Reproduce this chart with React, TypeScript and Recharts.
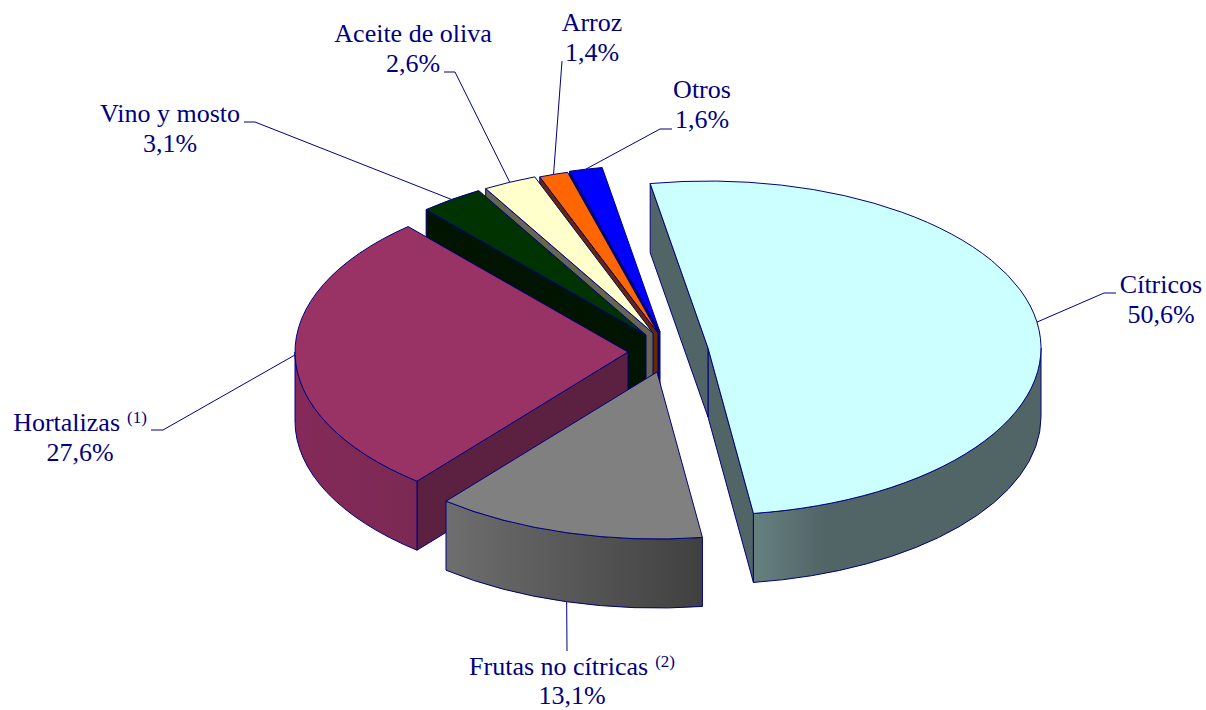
import React from 'react';
import { PieChart, Pie } from 'recharts';

// draw order runs back to front, counter-clockwise from the top
const categories = ['Otros', 'Arroz', 'Aceite de oliva', 'Vino y mosto', 'Hortalizas', 'Frutas no cítricas', 'Cítricos'];
const shares = [1.6, 1.4, 2.6, 3.1, 27.6, 13.1, 50.6];
const footnotes: Record<string, string> = { Hortalizas: '(1)', 'Frutas no cítricas': '(2)' };

const chartData = categories.map((name, i) => ({ name, value: shares[i] }));

const BASE_X = 650;
const BASE_Y = 345;
const RX = 333;
const RY = 167;
const DEPTH = 69;
const NAVY = '#000080';

type SliceStyle = {
  dx: number;
  dy: number;
  top: string;
  side: string;
  wall: [string, string, number];
};

const sliceStyles: Record<string, SliceStyle> = {
  Otros: { dx: 10, dy: -13, top: '#0000ff', side: '#000066', wall: ['#000066', '#000066', 1] },
  Arroz: { dx: 8, dy: -12, top: '#ff6600', side: '#662900', wall: ['#662900', '#662900', 1] },
  'Aceite de oliva': { dx: 3, dy: -12, top: '#ffffcc', side: '#666652', wall: ['#666652', '#666652', 1] },
  'Vino y mosto': { dx: -4, dy: -10, top: '#003300', side: '#001400', wall: ['#001400', '#001400', 1] },
  Hortalizas: { dx: -22, dy: 7, top: '#993366', side: '#5c2140', wall: ['#85295a', '#7a2a52', 1] },
  'Frutas no cítricas': { dx: 7, dy: 27, top: '#808080', side: '#4d4d4d', wall: ['#6e6e6e', '#404040', 1] },
  'Cítricos': { dx: 58, dy: 3, top: '#ccffff', side: '#516466', wall: ['#668080', '#516466', 0.25] },
};

// where each label sits and how its leader bends on the way there
const labelSpots: Record<string, { x: number; y: number; gap: number; leader: [number, number][] }> = {
  Otros: { x: 702, y: 98, gap: 30, leader: [[660, 129], [672, 129]] },
  Arroz: { x: 592, y: 31, gap: 30, leader: [[562, 61]] },
  'Aceite de oliva': { x: 413, y: 42, gap: 30, leader: [[455, 72], [444, 72]] },
  'Vino y mosto': { x: 170, y: 122, gap: 30, leader: [[255, 122], [244, 122]] },
  Hortalizas: { x: 80, y: 431, gap: 30, leader: [[163, 430], [151, 430]] },
  'Frutas no cítricas': { x: 572, y: 675, gap: 29, leader: [[567, 651]] },
  'Cítricos': { x: 1161, y: 293, gap: 30, leader: [[1104, 293], [1116, 293]] },
};

const rad = (a: number) => (a * Math.PI) / 180;

const rim = (cx: number, cy: number, a: number) => [cx + RX * Math.cos(rad(a)), cy - RY * Math.sin(rad(a))];

const Slice3D = (props: any) => {
  const { name, cx: baseX, cy: baseY, startAngle, endAngle } = props;
  const st = sliceStyles[name];
  const cx = baseX + st.dx;
  const cy = baseY + st.dy;
  const [sx, sy] = rim(cx, cy, startAngle);
  const [ex, ey] = rim(cx, cy, endAngle);
  const large = endAngle - startAngle > 180 ? 1 : 0;
  const gradId = 'wall-' + categories.indexOf(name);

  // front part of the rim only, the back is hidden by the top face
  const from = Math.max(startAngle, 180);
  const to = Math.min(endAngle, 360);
  let outer = null;
  if (to > from) {
    const [ax, ay] = rim(cx, cy, from);
    const [bx, by] = rim(cx, cy, to);
    const d = `M${ax},${ay} A${RX},${RY} 0 0 0 ${bx},${by} L${bx},${by + DEPTH} A${RX},${RY} 0 0 1 ${ax},${ay + DEPTH} Z`;
    outer = <path d={d} fill={`url(#${gradId})`} stroke={NAVY} strokeWidth={1} />;
  }

  const radial = (x: number, y: number) => (
    <path
      d={`M${cx},${cy} L${x},${y} L${x},${y + DEPTH} L${cx},${cy + DEPTH} Z`}
      fill={st.side}
      stroke={NAVY}
      strokeWidth={1}
    />
  );

  return (
    <g>
      <defs>
        <linearGradient id={gradId} x1="0" y1="0" x2="1" y2="0">
          <stop offset="0" stopColor={st.wall[0]} />
          <stop offset={st.wall[2]} stopColor={st.wall[1]} />
        </linearGradient>
      </defs>
      {Math.cos(rad(startAngle)) > 0 && radial(sx, sy)}
      {Math.cos(rad(endAngle)) < 0 && radial(ex, ey)}
      {outer}
      <path
        d={`M${cx},${cy} L${sx},${sy} A${RX},${RY} 0 ${large} 0 ${ex},${ey} Z`}
        fill={st.top}
        stroke={NAVY}
        strokeWidth={1}
      />
    </g>
  );
};

const SliceLabel = (props: any) => {
  const { name, value, cx: baseX, cy: baseY, midAngle } = props;
  const st = sliceStyles[name];
  const spot = labelSpots[name];
  const [mx, my] = rim(baseX + st.dx, baseY + st.dy, midAngle);
  const startY = Math.sin(rad(midAngle)) < -0.5 ? my + DEPTH : my;
  const pts = [[mx, startY], ...spot.leader].map((p) => p.join(',')).join(' ');
  const note = footnotes[name];
  return (
    <g>
      <polyline points={pts} fill="none" stroke={NAVY} strokeWidth={1} />
      <text x={spot.x} y={spot.y} textAnchor="middle" fontFamily="Liberation Serif" fontSize={26} fill={NAVY}>
        {name}
        {note && (
          <tspan fontSize={17} dx={7} dy={-8}>
            {note}
          </tspan>
        )}
      </text>
      <text
        x={spot.x}
        y={spot.y + spot.gap}
        textAnchor="middle"
        fontFamily="Liberation Serif"
        fontSize={26}
        fill={NAVY}
      >
        {value.toFixed(1).replace('.', ',') + '%'}
      </text>
    </g>
  );
};

const App = () => {
  return (
    <div style={{ position: 'absolute', left: 0, top: 0, width: 1206, height: 710, background: '#fff' }}>
      <PieChart width={1206} height={710} margin={{ top: 0, right: 0, bottom: 0, left: 0 }}>
        <Pie
          data={chartData}
          dataKey="value"
          nameKey="name"
          cx={BASE_X}
          cy={BASE_Y}
          innerRadius={0}
          outerRadius={RX}
          startAngle={100}
          endAngle={460}
          paddingAngle={0}
          shape={Slice3D}
          label={SliceLabel}
          labelLine={false}
          isAnimationActive={false}
        />
      </PieChart>
    </div>
  );
};

export default App;
